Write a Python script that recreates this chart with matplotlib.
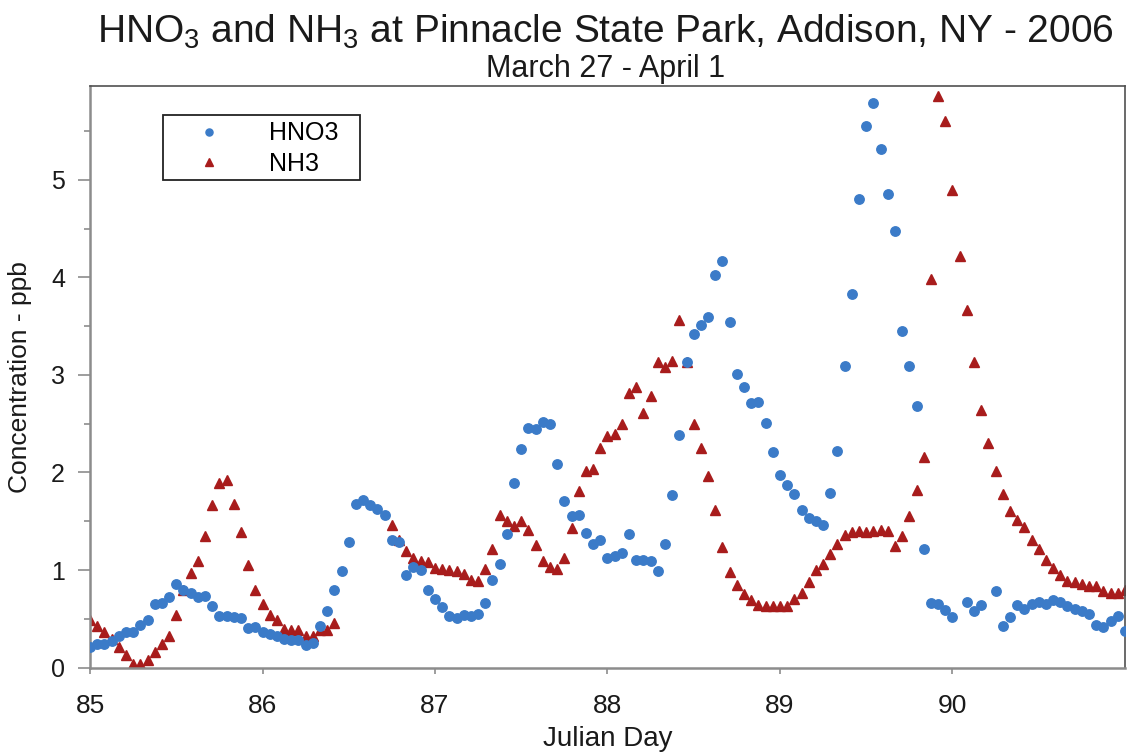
import numpy as np
import matplotlib
matplotlib.use("Agg")
import matplotlib.pyplot as plt
from matplotlib.patches import Rectangle

plt.rcParams['font.family'] = ['Liberation Sans', 'DejaVu Sans']
plt.rcParams['mathtext.fontset'] = 'custom'
plt.rcParams['mathtext.rm'] = 'Liberation Sans'
plt.rcParams['mathtext.it'] = 'Liberation Sans'

# hourly samples starting at Julian day 85.0
start_day = 85.0
hours_per_day = 24

hno3 = [
    0.21, 0.24, 0.24, 0.27, 0.32, 0.36, 0.36, 0.44, 0.49, 0.65, 0.66, 0.72,
    0.86, 0.80, 0.76, 0.72, 0.73, 0.63, 0.53, 0.53, 0.52, 0.51, 0.41, 0.42,
    0.36, 0.34, 0.32, 0.29, 0.28, 0.28, 0.23, 0.25, 0.43, 0.58, 0.80, 0.99,
    1.29, 1.68, 1.72, 1.67, 1.63, 1.56, 1.31, 1.29, 0.95, 1.03, 1.00, 0.79,
    0.70, 0.62, 0.53, 0.51, 0.54, 0.53, 0.55, 0.66, 0.90, 1.06, 1.37, 1.89,
    2.24, 2.46, 2.45, 2.52, 2.50, 2.09, 1.71, 1.55, 1.56, 1.38, 1.27, 1.31,
    1.12, 1.14, 1.17, 1.37, 1.10, 1.10, 1.09, 0.99, 1.27, 1.77, 2.38, 3.13,
    3.42, 3.51, 3.59, 4.02, 4.17, 3.54, 3.01, 2.88, 2.71, 2.72, 2.51, 2.21,
    1.97, 1.87, 1.78, 1.61, 1.53, 1.50, 1.46, 1.79, 2.22, 3.09, 3.83, 4.80,
    5.55, 5.79, 5.32, 4.85, 4.47, 3.45, 3.09, 2.68, 1.22, 0.66, 0.65, 0.59,
    0.52, np.nan, 0.67, 0.58, 0.64, np.nan, 0.78, 0.43, 0.52, 0.64, 0.60, 0.65,
    0.67, 0.65, 0.69, 0.67, 0.63, 0.60, 0.58, 0.55, 0.44, 0.42, 0.48, 0.53,
    0.37,
]

nh3 = [
    0.49, 0.43, 0.36, 0.29, 0.21, 0.13, 0.04, 0.04, 0.08, 0.16, 0.24, 0.32,
    0.54, 0.80, 0.97, 1.09, 1.35, 1.67, 1.89, 1.92, 1.68, 1.39, 1.05, 0.79,
    0.65, 0.54, 0.49, 0.40, 0.39, 0.38, 0.32, 0.32, 0.39, 0.39, 0.46, np.nan,
    np.nan, np.nan, np.nan, np.nan, np.nan, np.nan, 1.46, 1.31, 1.19, 1.12, 1.09, 1.08,
    1.02, 1.01, 1.00, 0.99, 0.96, 0.90, 0.89, 1.01, 1.22, 1.56, 1.50, 1.45,
    1.50, 1.41, 1.26, 1.09, 1.03, 1.01, 1.12, 1.43, 1.81, 2.01, 2.04, 2.25,
    2.37, 2.39, 2.50, 2.81, 2.88, 2.61, 2.78, 3.13, 3.08, 3.14, 3.56, 3.13,
    2.50, 2.25, 1.96, 1.62, 1.24, 0.98, 0.85, 0.75, 0.69, 0.64, 0.63, 0.63,
    0.63, 0.63, 0.70, 0.76, 0.88, 1.00, 1.06, 1.16, 1.27, 1.36, 1.39, 1.40,
    1.39, 1.40, 1.41, 1.40, 1.25, 1.35, 1.55, 1.82, 2.16, 3.98, 5.86, 5.60,
    4.89, 4.22, 3.66, 3.13, 2.64, 2.30, 2.01, 1.78, 1.60, 1.51, 1.44, 1.31,
    1.22, 1.10, 1.02, 0.95, 0.89, 0.88, 0.86, 0.84, 0.84, 0.78, 0.76, 0.76,
    0.80,
]

day = start_day + np.arange(len(hno3)) / hours_per_day

x_ticks = [85, 86, 87, 88, 89, 90]
y_ticks = [0, 1, 2, 3, 4, 5]

blue = '#3B7BC8'
red = '#A81C1C'
text_col = '#1a1a1a'

fig = plt.figure(figsize=(11.28, 7.55), dpi=100)
ax = fig.add_axes([0.0798, 0.1158, 0.9175, 0.7702])

ax.plot(day, hno3, linestyle='none', marker='o', markersize=6.8,
        color=blue, markeredgecolor=blue, label='HNO3', zorder=3)
ax.plot(day, nh3, linestyle='none', marker='^', markersize=7.5,
        color=red, markeredgecolor=red, label='NH3', zorder=2)

ax.set_xlim(85, 91)
ax.set_ylim(0, 5.96)
ax.set_xticks(x_ticks)
ax.set_yticks(y_ticks)
ax.set_yticks(np.arange(0.5, 6, 1.0), minor=True)
ax.tick_params(axis='x', which='major', direction='out', length=4, width=1.2,
               color='#8C8C8C', labelsize=19, labelcolor=text_col, pad=15)
ax.tick_params(axis='y', which='major', direction='out', length=9, width=1.2,
               color='#8C8C8C', labelsize=18, labelcolor=text_col, pad=9)
ax.tick_params(axis='y', which='minor', direction='out', length=4, width=1.2,
               color='#8C8C8C')
ax.spines['left'].set_color('#8C8C8C')
ax.spines['bottom'].set_color('#8C8C8C')
ax.spines['left'].set_linewidth(1.8)
ax.spines['bottom'].set_linewidth(1.8)
ax.spines['top'].set_color('#505050')
ax.spines['right'].set_color('#505050')
ax.spines['top'].set_linewidth(1.2)
ax.spines['right'].set_linewidth(1.2)

ax.set_xlabel('Julian Day', fontsize=20, color=text_col, va='top')
ax.xaxis.set_label_coords(0.5, -0.1)
ax.set_ylabel('Concentration - ppb', fontsize=19, color=text_col)
ax.yaxis.set_label_coords(-0.056, 0.5)

fig.text(0.537, 0.958, 'HNO$_3$ and NH$_3$ at Pinnacle State Park, Addison, NY - 2006',
         ha='center', va='center', fontsize=28, color=text_col)
fig.text(0.537, 0.908, 'March 27 - April 1', ha='center', va='center',
         fontsize=22, color=text_col)

# legend box drawn separately so its size matches the original
ax.add_patch(Rectangle((0.0705, 0.8384), 0.1904, 0.1117, transform=ax.transAxes,
                       facecolor='white', edgecolor='#222222', linewidth=1.3,
                       zorder=4))
leg = ax.legend(loc='upper left', bbox_to_anchor=(0.0705, 0.952), fontsize=18,
                frameon=False, borderpad=0.3, markerscale=0.75,
                handlelength=3.1, handletextpad=0.85, labelspacing=0.25,
                borderaxespad=0.0)
leg.set_zorder(5)

fig.savefig('out.png', dpi=100)
